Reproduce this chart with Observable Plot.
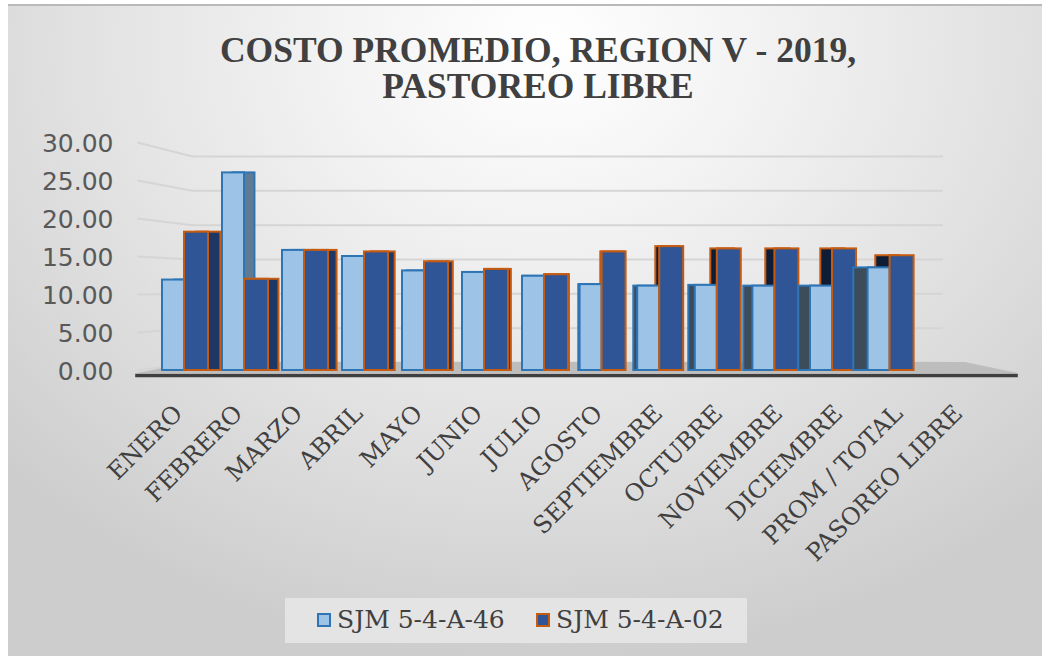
<!DOCTYPE html>
<html>
<head>
<meta charset="utf-8">
<script src="https://cdn.jsdelivr.net/npm/d3@7"></script>
<script src="https://cdn.jsdelivr.net/npm/@observablehq/plot@0.6"></script>
<style>
  html, body { margin: 0; padding: 0; background: #ffffff; }
  #page { position: relative; width: 1048px; height: 660px; overflow: hidden; background: #ffffff; }
  #frame {
    position: absolute; left: 8px; top: 4px; width: 1034px; height: 652px;
    box-sizing: border-box; border-top: 2px solid #b9b9b9;
    background: radial-gradient(ellipse 72% 95% at 52% 6%, #ffffff 0%, #f2f2f2 30%, #e2e2e2 62%, #cdcdcd 100%);
  }
  #title {
    position: absolute; left: 28px; top: 32px; width: 1020px; text-align: center;
    font-family: "Liberation Serif", "DejaVu Serif", serif; font-weight: bold;
    font-size: 35.5px; line-height: 36px; color: #404040;
  }
  #chart { position: absolute; left: 0; top: 120px; }
  #legend {
    position: absolute; left: 285px; top: 598px; width: 462px; height: 45px;
    background: #e4e4e4;
    font-family: "DejaVu Serif", serif; font-size: 25px; color: #404040;
  }
  #legend .sw { position: absolute; top: 15px; width: 14px; height: 14px; box-sizing: border-box; border: 2px solid; }
  #legend .lb { position: absolute; top: 9px; line-height: 25px; white-space: nowrap; }
</style>
</head>
<body>
<div id="page">
  <div id="frame"></div>
  <div id="title">COSTO PROMEDIO, REGION V - 2019,<br>PASTOREO LIBRE</div>
  <div id="chart"></div>
  <div id="legend"></div>
</div>
<script>
// ---------- data ----------
const categories = ["ENERO", "FEBRERO", "MARZO", "ABRIL", "MAYO", "JUNIO", "JULIO",
  "AGOSTO", "SEPTIEMBRE", "OCTUBRE", "NOVIEMBRE", "DICIEMBRE", "PROM / TOTAL", "PASOREO LIBRE"];
const seriesNames = ["SJM 5-4-A-46", "SJM 5-4-A-02"];
const sjm46 = [11.9, 26.0, 15.8, 15.0, 13.1, 12.9, 12.4, 11.3, 11.1, 11.2, 11.1, 11.1, 13.5, null];
const sjm02 = [18.2, 12.0, 15.8, 15.6, 14.3, 13.3, 12.6, 15.6, 16.3, 16.0, 16.0, 16.0, 15.1, null];
const yTicks = [0, 5, 10, 15, 20, 25, 30];

// ---------- styles ----------
const C = {
  lightFill: "#9dc3e6", lightStroke: "#2e75b6",
  darkFill: "#2f5597", darkStroke: "#c55a11",
  lightSideR: "#5f7a93", lightSideL: "#3c4c5b",
  darkSideR: "#1f3764", darkSideL: "#0e1c36",
  grid: "#d5d5d5", floor: "#bdbdbd", axis: "#3f3f3f",
  tick: "#595959", label: "#404040"
};

// ---------- 3D-ish geometry helpers (layout only) ----------
const STEP = 60;                       // px per category
const persp = i => i < 7 ? 0 : (i - 6) * 2.4 / STEP;         // perspective shift (index units)
const depth = i => i <= 6 ? (6.5 - i) * 1.9 : -(i - 6.5) * 2.6; // side face width (px)
const backY = v => 1.05 + 0.9035 * v;  // back-wall projection of a value
const FRONT_L = -0.3, BACK_L = 0.617, BACK_R = 13.13, FLOOR_BR = 13.5, FRONT_R = 14.38;
const FLOOR_FRONT = -0.39, AXIS_Y = -0.66;

const rows = categories.map((c, i) => ({i, c, a: sjm46[i], b: sjm02[i]})).filter(d => d.a != null);

function barMarks(d) {
  const i = d.i, dep = depth(i), s = persp(i);
  const L1 = i + 7 / STEP - s, L2 = i + 29 / STEP - s;
  const R1 = i + 29 / STEP - s, R2 = i + 53 / STEP - s;
  const rightSide = dep > 0;
  const mk = (x1, x2, key, fill, stroke, dx) => Plot.rect([d], {
    x1: () => x1, x2: () => x2, y1: () => 0, y2: r => r[key],
    dx, fill, stroke, strokeWidth: 2, strokeLinejoin: "miter"
  });
  const lightBack = mk(L1, L2, "a", rightSide ? C.lightSideR : C.lightSideL, C.lightStroke, dep);
  const lightFront = mk(L1, L2, "a", C.lightFill, C.lightStroke, 0);
  const darkBack = mk(R1, R2, "b", rightSide ? C.darkSideR : C.darkSideL, C.darkStroke, dep);
  const darkFront = mk(R1, R2, "b", C.darkFill, C.darkStroke, 0);
  return rightSide ? [lightBack, lightFront, darkBack, darkFront]
                   : [darkBack, lightBack, lightFront, darkFront];
}

const floorPts = [
  {x: FRONT_L, y1: FLOOR_FRONT, y2: FLOOR_FRONT},
  {x: BACK_L, y1: FLOOR_FRONT, y2: backY(0)},
  {x: FLOOR_BR, y1: FLOOR_FRONT, y2: backY(0)},
  {x: FRONT_R, y1: FLOOR_FRONT, y2: FLOOR_FRONT}
];

const plot = Plot.plot({
  width: 1048,
  height: 470,
  marginLeft: 0, marginRight: 0, marginTop: 0, marginBottom: 0,
  style: {background: "transparent", overflow: "visible"},
  x: {type: "linear", domain: [0, 14], range: [155, 995], axis: null},
  y: {type: "linear", domain: [0, 30], range: [250, 22], axis: null},
  marks: [
    // back-wall grid
    Plot.link(yTicks, {x1: () => FRONT_L, y1: v => v, x2: () => BACK_L, y2: v => backY(v),
      stroke: C.grid, strokeWidth: 2}),
    Plot.ruleY(yTicks, {y: v => backY(v), x1: BACK_L, x2: BACK_R, stroke: C.grid, strokeWidth: 2}),
    // floor
    Plot.areaY(floorPts, {x: "x", y1: "y1", y2: "y2", fill: C.floor, curve: "linear"}),
    // bars
    ...rows.flatMap(barMarks),
    // axis line
    Plot.ruleY([AXIS_Y], {x1: FRONT_L - 0.03, x2: FRONT_R, stroke: C.axis, strokeWidth: 3.5}),
    // y tick labels
    Plot.text(yTicks, {x: () => FRONT_L, y: v => v, text: v => v.toFixed(2), textAnchor: "end",
      dx: -24, dy: 1, fontSize: 25, fontFamily: "DejaVu Sans", fill: C.tick}),
    // category labels
    Plot.text(categories, {x: (d, i) => i + 0.5, y: () => 0, text: d => d, rotate: -45,
      textAnchor: "end", dx: -7, dy: 39, fontSize: 24, fontFamily: "DejaVu Serif", fill: C.label})
  ]
});
document.getElementById("chart").appendChild(plot);

// legend
const legend = document.getElementById("legend");
const legendItems = [
  {name: seriesNames[0], fill: C.lightFill, stroke: C.lightStroke, sw: 32, lb: 52},
  {name: seriesNames[1], fill: C.darkFill, stroke: C.darkStroke, sw: 251, lb: 271}
];
legendItems.forEach(it => {
  const s = document.createElement("div");
  s.className = "sw"; s.style.left = it.sw + "px"; s.style.background = it.fill; s.style.borderColor = it.stroke;
  const t = document.createElement("div");
  t.className = "lb"; t.style.left = it.lb + "px"; t.textContent = it.name;
  legend.appendChild(s); legend.appendChild(t);
});
</script>
</body>
</html>
